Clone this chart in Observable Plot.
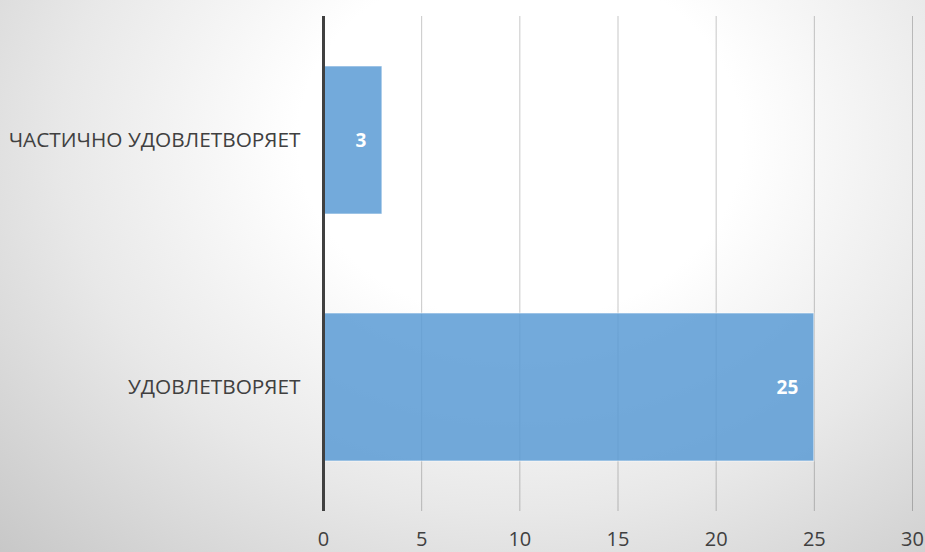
<!DOCTYPE html>
<html>
<head>
<meta charset="utf-8">
<script src="https://cdn.jsdelivr.net/npm/d3@7"></script>
<script src="https://cdn.jsdelivr.net/npm/@observablehq/plot@0.6"></script>
<style>
  html, body { margin: 0; padding: 0; }
  body {
    width: 925px; height: 552px; overflow: hidden;
    background: radial-gradient(ellipse 740px 600px at 520px 140px, #ffffff 0%, #ffffff 30%, #e8e8e8 62%, #c6c6c6 100%);
  }
  #chart svg { display: block; }
</style>
</head>
<body>
<div id="chart"></div>
<script>
const categories = ["ЧАСТИЧНО УДОВЛЕТВОРЯЕТ", "УДОВЛЕТВОРЯЕТ"];
const values = [3, 25];
const xTicks = [0, 5, 10, 15, 20, 25, 30];

const data = categories.map((c, i) => ({category: c, value: values[i]}));

const chart = Plot.plot({
  width: 925,
  height: 552,
  marginTop: 16,
  marginBottom: 41,
  marginLeft: 323,
  marginRight: 13,
  style: {background: "transparent", fontFamily: "'Open Sans', sans-serif", overflow: "visible"},
  x: {domain: [0, 30], ticks: xTicks, label: null},
  y: {domain: categories, paddingInner: 0.4, paddingOuter: 0.2, label: null},
  marks: [
    Plot.ruleX(xTicks.slice(1), {stroke: "#000", strokeOpacity: 0.22, strokeWidth: 1}),
    Plot.barX(data, {x: "value", y: "category", fill: "#5b9bd5", fillOpacity: 0.85, stroke: "#ffffff", strokeOpacity: 0.6, strokeWidth: 1}),
    Plot.text(data, {x: "value", y: "category", text: d => String(d.value), textAnchor: "end", dx: -16, fill: "#ffffff", fontWeight: "bold", fontSize: 19}),
    Plot.ruleX([0], {stroke: "#404040", strokeWidth: 3}),
    Plot.axisX({ticks: xTicks, tickSize: 0, tickPadding: 20, fontSize: 20, color: "#404040", label: null}),
    Plot.axisY({tickSize: 0, tickPadding: 23, fontSize: 20.8, color: "#404040", label: null})
  ]
});
document.getElementById("chart").appendChild(chart);
</script>
</body>
</html>
